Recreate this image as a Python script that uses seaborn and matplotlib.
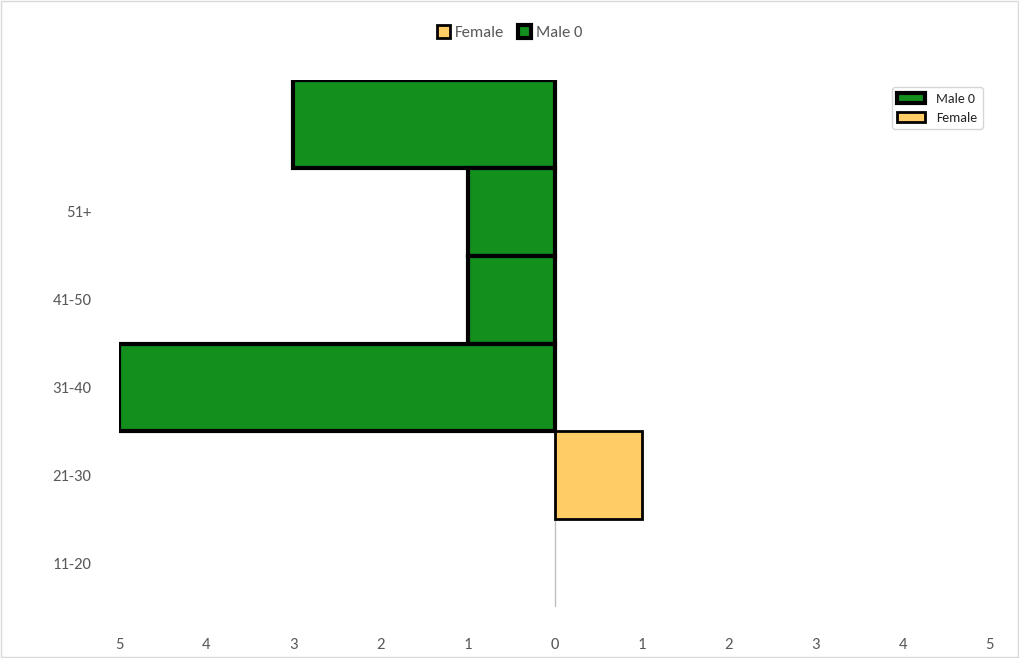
import matplotlib
matplotlib.use('Agg')
import matplotlib.pyplot as plt
import seaborn as sns
import pandas as pd

ages = [' ', '51+', '41-50', '31-40', '21-30', '11-20']
male = [3, 1, 1, 5, 0, 0]
female = [0, 0, 0, 0, 1, 0]
xticks = [-5, -4, -3, -2, -1, 0, 1, 2, 3, 4, 5]

df = pd.DataFrame({'age': ages, 'male': [-m for m in male], 'female': female})

sns.set_style('white')
plt.rcParams['font.family'] = ['Calibri', 'Carlito', 'Liberation Sans', 'DejaVu Sans']

fig = plt.figure(figsize=(10.19, 6.58), dpi=100)
ax = fig.add_axes([0.117, 0.0775, 0.8545, 0.8005])

sns.barplot(data=df[df['male'] != 0], x='male', y='age', order=ages, color='#138F1D',
            width=1.0, edgecolor='black', linewidth=3, saturation=1, ax=ax, label='Male 0')
sns.barplot(data=df[df['female'] != 0], x='female', y='age', order=ages, color='#FFCC66',
            width=1.0, edgecolor='black', linewidth=2, saturation=1, ax=ax, label='Female')

ax.axvline(0, color='#BFBFBF', lw=1, zorder=0)
ax.set_xlim(-5, 5)
ax.set_ylim(5.5, -0.5)
ax.set_xticks(xticks)
ax.set_xticklabels([str(abs(t)) for t in xticks])
ax.tick_params(axis='x', pad=22, labelsize=12, colors='#595959', length=0)
ax.tick_params(axis='y', pad=20, labelsize=12, colors='#595959', length=0)
ax.set_xlabel('')
ax.set_ylabel('')
for s in ax.spines.values():
    s.set_visible(False)

h, l = ax.get_legend_handles_labels()
order = [l.index('Female'), l.index('Male 0')]
leg = fig.legend([h[i] for i in order], [l[i] for i in order], loc='upper center',
                 bbox_to_anchor=(0.5, 0.985), ncol=2, frameon=False, fontsize=12,
                 handlelength=0.8, handleheight=0.8, columnspacing=0.8, handletextpad=0.3)
for t in leg.get_texts():
    t.set_color('#595959')

fig.patches.append(plt.Rectangle((0.001, 0.001), 0.998, 0.998, transform=fig.transFigure,
                                 fill=False, edgecolor='#D9D9D9', lw=1))
fig.savefig('out.png', dpi=100)
